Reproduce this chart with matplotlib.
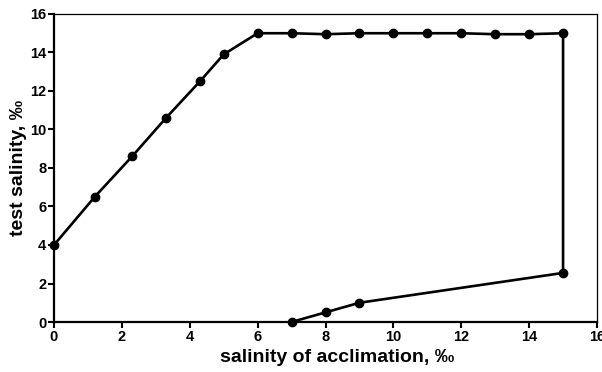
import matplotlib
matplotlib.use("Agg")
import matplotlib.pyplot as plt

# salinity of acclimation (x) vs test salinity (y), one closed-ish polyline
acclimation = [0, 1.2, 2.3, 3.3, 4.3, 5, 6, 7, 8, 9, 10, 11, 12, 13, 14, 15,
               15, 9, 8, 7]
test_salinity = [4, 6.5, 8.6, 10.6, 12.5, 13.9, 15, 15, 14.95, 15, 15, 15, 15,
                 14.95, 14.95, 15, 2.55, 1.0, 0.5, 0]
xticks = [0, 2, 4, 6, 8, 10, 12, 14, 16]
yticks = [0, 2, 4, 6, 8, 10, 12, 14, 16]

plt.rcParams['font.family'] = ['Liberation Sans', 'DejaVu Sans']

fig = plt.figure(figsize=(6.02, 3.72), dpi=100)
ax = fig.add_axes([0.0897, 0.1344, 0.902, 0.828])

ax.plot(acclimation, test_salinity, color="black", linewidth=1.9,
        marker='o', markersize=6, clip_on=False, zorder=3)

ax.set_xlim(0, 16)
ax.set_ylim(0, 16)
ax.set_xticks(xticks)
ax.set_yticks(yticks)
ax.tick_params(direction='out', length=4, width=1.5, labelsize=10.5, pad=1.5)
for lab in ax.get_xticklabels() + ax.get_yticklabels():
    lab.set_fontweight('bold')

for s in ['left', 'bottom']:
    ax.spines[s].set_linewidth(1.6)
for s in ['top', 'right']:
    ax.spines[s].set_linewidth(0.9)

ax.set_xlabel('salinity of acclimation, ‰', fontsize=14, fontweight='bold')
ax.xaxis.set_label_coords(0.521, -0.088)
ax.set_ylabel('test salinity, ‰', fontsize=14, fontweight='bold', labelpad=2)

fig.savefig("out.png", dpi=100)
